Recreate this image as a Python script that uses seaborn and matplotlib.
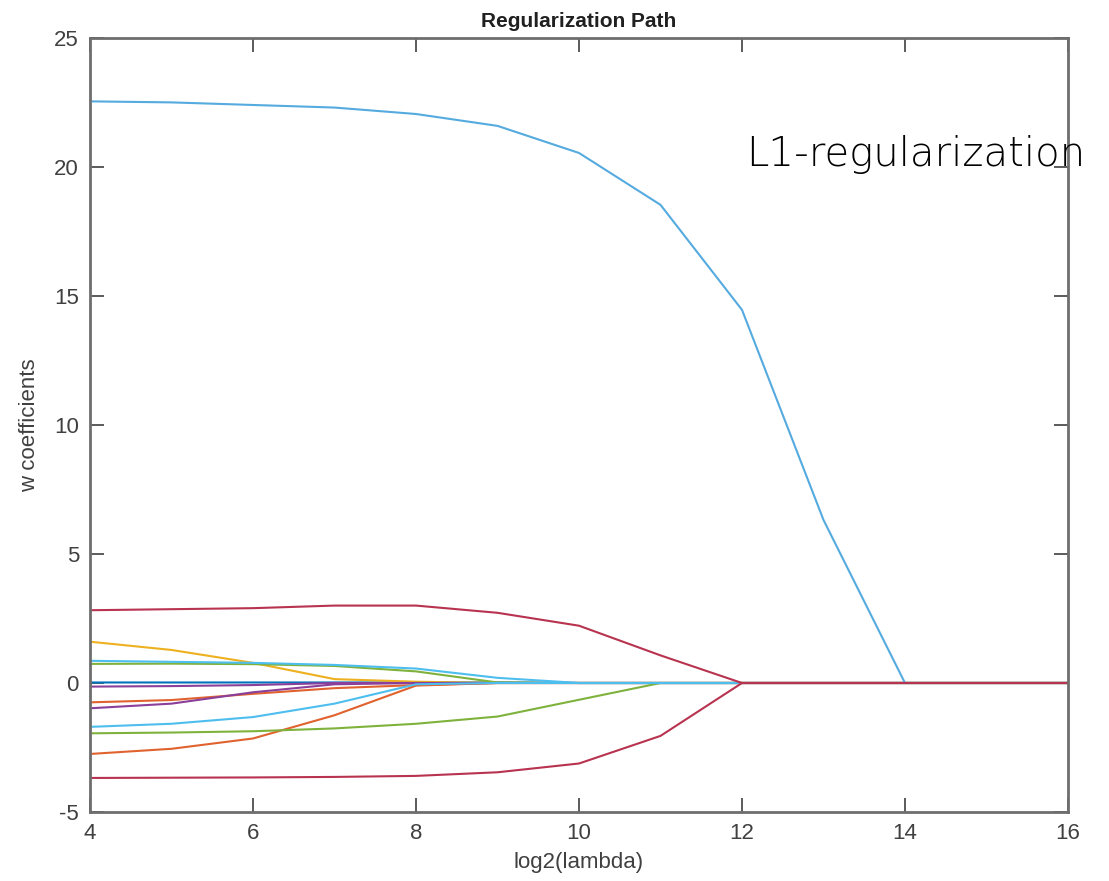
import matplotlib
matplotlib.use("Agg")
import matplotlib.pyplot as plt
import seaborn as sns
import pandas as pd
import numpy as np

# ---- data ----
log2_lambda = [4, 5, 6, 7, 8, 9, 10, 11, 12, 13, 14, 15, 16]

w_blue0    = [0.02, 0.02, 0.02, 0.02, 0.02, 0.02, 0.0, 0, 0, 0, 0, 0, 0]
w_orange_a = [-0.75, -0.66, -0.42, -0.20, -0.08, 0, 0, 0, 0, 0, 0, 0, 0]
w_orange_b = [-2.75, -2.55, -2.15, -1.25, -0.10, 0, 0, 0, 0, 0, 0, 0, 0]
w_yellow   = [1.60, 1.28, 0.78, 0.15, 0.05, 0, 0, 0, 0, 0, 0, 0, 0]
w_purple_a = [-0.14, -0.12, -0.08, 0.0, 0, 0, 0, 0, 0, 0, 0, 0, 0]
w_purple_b = [-0.98, -0.80, -0.36, -0.05, 0, 0, 0, 0, 0, 0, 0, 0, 0]
w_green_a  = [0.74, 0.75, 0.73, 0.66, 0.45, 0.02, 0, 0, 0, 0, 0, 0, 0]
w_green_b  = [-1.95, -1.92, -1.87, -1.76, -1.58, -1.30, -0.65, 0, 0, 0, 0, 0, 0]
w_big      = [22.54, 22.5, 22.4, 22.3, 22.05, 21.59, 20.54, 18.53, 14.46, 6.32, 0, 0, 0]
w_cyan_a   = [0.86, 0.82, 0.78, 0.70, 0.56, 0.20, 0, 0, 0, 0, 0, 0, 0]
w_cyan_b   = [-1.70, -1.58, -1.32, -0.80, -0.05, 0, 0, 0, 0, 0, 0, 0, 0]
w_red_a    = [2.82, 2.86, 2.90, 3.00, 3.00, 2.72, 2.22, 1.07, 0, 0, 0, 0, 0]
w_red_b    = [-3.68, -3.67, -3.66, -3.64, -3.60, -3.46, -3.12, -2.05, 0, 0, 0, 0, 0]

series = {
    "blue0": w_blue0, "orange_a": w_orange_a, "orange_b": w_orange_b,
    "yellow": w_yellow, "purple_a": w_purple_a, "purple_b": w_purple_b,
    "green_a": w_green_a, "green_b": w_green_b, "big": w_big,
    "cyan_a": w_cyan_a, "cyan_b": w_cyan_b, "red_a": w_red_a, "red_b": w_red_b,
}
palette = {
    "blue0": "#0072BD", "orange_a": "#E0622F", "orange_b": "#E0622F",
    "yellow": "#EDB120", "purple_a": "#8A3F9A", "purple_b": "#8A3F9A",
    "green_a": "#7FB23C", "green_b": "#7FB23C", "big": "#55AADF",
    "cyan_a": "#4DBEEE", "cyan_b": "#4DBEEE", "red_a": "#B8334F", "red_b": "#B8334F",
}

rows = []
for name, vals in series.items():
    for x, v in zip(log2_lambda, vals):
        rows.append({"log2(lambda)": x, "w": v, "series": name})
df = pd.DataFrame(rows)

sns.set_theme(style="white")
plt.rcParams["font.family"] = ["Liberation Sans", "DejaVu Sans"]
plt.rcParams["axes.unicode_minus"] = False

fig = plt.figure(figsize=(11.09, 8.81), dpi=100)
ax = fig.add_axes([0.0812, 0.0783, 0.8818, 0.8787])

sns.lineplot(data=df, x="log2(lambda)", y="w", hue="series",
             hue_order=list(series.keys()), palette=palette,
             sort=False, legend=False, linewidth=1.5, ax=ax)

ax.set_xlim(4, 16)
ax.set_ylim(-5, 25)
ax.set_xticks([4, 6, 8, 10, 12, 14, 16])
ax.set_yticks([-5, 0, 5, 10, 15, 20, 25])
ax.tick_params(direction="in", top=True, right=True, bottom=True, left=True,
               length=10, width=1.2, color="#404040", labelcolor="#404040",
               labelsize=16, pad=8)
for s in ax.spines.values():
    s.set_color("#6e6e6e")
    s.set_linewidth(2)

ax.set_xlabel("log2(lambda)", fontsize=16, color="#404040", labelpad=6)
ax.set_ylabel("w coefficients", fontsize=16, color="#404040", labelpad=10)
ax.set_title("Regularization Path", fontsize=15, fontweight="bold",
             color="#202020", pad=8)

ax.text(12.05, 20.5, "L1-regularization", fontsize=29, color="black",
        family=["DejaVu Sans"], fontweight="light", va="center", ha="left",
        clip_on=False)

fig.savefig("out.png", dpi=100)
